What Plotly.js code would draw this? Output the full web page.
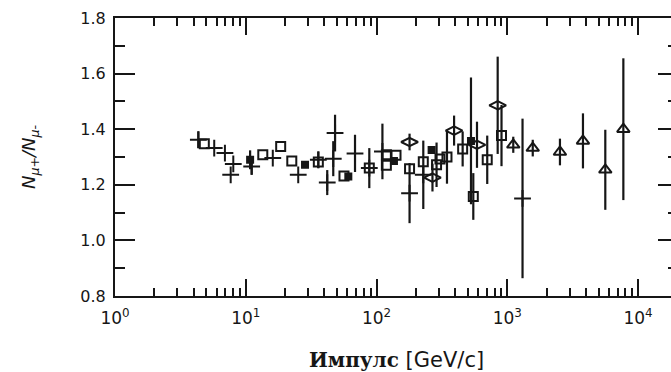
<!DOCTYPE html>
<html>
<head>
<meta charset="utf-8">
<script src="https://cdn.plot.ly/plotly-3.0.1.min.js"></script>
<style>
  html, body { margin: 0; padding: 0; overflow: hidden; background: #fff; }
  #chart { width: 690px; height: 372px; }
</style>
</head>
<body>
<div id="chart"></div>
<script>
// Muon charge ratio N(mu+)/N(mu-) versus momentum, several data sets.

// crosses
const crossP   = [4.34, 5.74, 6.93, 8.03, 7.67, 11.1, 16.1, 25.2, 35.9, 42.0, 48.2, 46.7, 68.5, 88.1, 111, 179, 228, 1309];
const crossR   = [1.362, 1.332, 1.314, 1.275, 1.236, 1.266, 1.296, 1.236, 1.290, 1.208, 1.386, 1.294, 1.313, 1.260, 1.320, 1.170, 1.236, 1.151];
const crossErr = [0.030, 0, 0, 0, 0, 0.030, 0, 0, 0.030, 0.045, 0.066, 0.063, 0.067, 0.072, 0.100, 0.108, 0.123, 0.287];

// open squares
const sqP   = [4.82, 13.5, 18.5, 22.5, 35.9, 56.4, 88.1, 119, 119, 141, 179, 228, 288, 306, 346, 456, 550, 703, 904];
const sqR   = [1.348, 1.308, 1.338, 1.286, 1.282, 1.232, 1.260, 1.270, 1.308, 1.306, 1.258, 1.283, 1.272, 1.293, 1.300, 1.329, 1.158, 1.290, 1.377];
const sqErr = [0, 0, 0, 0, 0, 0, 0, 0, 0, 0, 0, 0, 0.080, 0, 0.096, 0.063, 0.084, 0.087, 0.110];

// filled squares
const fillP   = [10.8, 28.4, 60.9, 136, 264, 528];
const fillR   = [1.290, 1.272, 1.230, 1.286, 1.325, 1.358];
const fillErr = [0.034, 0, 0, 0, 0, 0.228];

// open diamonds
const diaP   = [179, 268, 392, 587, 845];
const diaR   = [1.354, 1.226, 1.395, 1.344, 1.486];
const diaErr = [0.030, 0.050, 0.054, 0.083, 0.175];

// open triangles
const triP   = [1112, 1567, 2530, 3794, 5623, 7727];
const triR   = [1.344, 1.332, 1.318, 1.358, 1.254, 1.400];
const triErr = [0.029, 0.030, 0.048, 0.099, 0.144, 0.255];

// axis labels
const decadeVals = [1, 10, 100, 1000, 10000];
const decadeText = ['10<sup>0</sup>', '10<sup>1</sup>', '10<sup>2</sup>', '10<sup>3</sup>', '10<sup>4</sup>'];
const xTitle = '<span style="font-family:DejaVu Serif;font-weight:bold;font-size:20px">Импулс</span> [GeV/c]';
const yTitle = '<i>N</i><sub><i>μ+</i></sub><i>/</i><i>N</i><sub><i>μ-</i></sub>';

const INK = '#161616';
const X_RANGE = [0, 4.306];
const Y_RANGE = [0.8, 1.8];

// minor ticks at 2..9 within each decade
const minorVals = [];
for (let d = 1; d <= 10000; d *= 10) {
  for (let k = 2; k <= 9; k++) minorVals.push(k * d);
}

function series(x, y, err, symbol, size) {
  return {
    type: 'scatter', mode: 'markers', x: x, y: y,
    error_y: { type: 'data', array: err, visible: true, color: INK, thickness: 2.2, width: 0 },
    marker: { symbol: symbol, size: size, color: INK, line: { color: INK, width: 2 } },
    hoverinfo: 'x+y'
  };
}

const data = [
  series(crossP, crossR, crossErr, 'cross-thin-open', 12),
  series(sqP, sqR, sqErr, 'square-open', 9),
  series(fillP, fillR, fillErr, 'square', 6),
  series(diaP, diaR, diaErr, 'diamond-wide-open', 12),
  series(triP, triR, triErr, 'triangle-up-open', 11),
  // empty trace that carries the mirrored top/right tick frame
  { type: 'scatter', mode: 'markers', x: [], y: [], xaxis: 'x2', yaxis: 'y2', hoverinfo: 'skip' }
];

const xTicks = {
  ticks: 'inside', ticklen: 17, tickwidth: 2, tickcolor: INK,
  tickmode: 'array', tickvals: decadeVals,
  minor: { tickmode: 'array', tickvals: minorVals, ticks: 'inside', ticklen: 8, tickwidth: 2, tickcolor: INK, showgrid: false }
};
const yTicks = {
  tick0: 0.8, dtick: 0.2,
  ticks: 'inside', ticklen: 20, tickwidth: 2, tickcolor: INK,
  minor: { dtick: 0.1, ticks: 'inside', ticklen: 10, tickwidth: 2, tickcolor: INK, showgrid: false }
};

const layout = {
  width: 690, height: 372,
  margin: { l: 115, r: 12, t: 18, b: 76 },
  paper_bgcolor: '#fff', plot_bgcolor: '#fff',
  showlegend: false,
  font: { family: 'DejaVu Sans, sans-serif', color: INK },
  xaxis: Object.assign({
    type: 'log', range: X_RANGE,
    showgrid: false, zeroline: false,
    showline: true, linecolor: INK, linewidth: 2, mirror: true,
    ticktext: decadeText,
    tickfont: { family: 'DejaVu Sans, sans-serif', size: 17, color: INK },
    ticklabelstandoff: 6,
    title: { text: xTitle, font: { family: 'DejaVu Sans, sans-serif', size: 21, color: INK }, standoff: 30 }
  }, xTicks),
  yaxis: Object.assign({
    range: Y_RANGE, tickformat: '.1f',
    showgrid: false, zeroline: false,
    showline: true, linecolor: INK, linewidth: 2, mirror: true,
    tickfont: { family: 'DejaVu Sans, sans-serif', size: 16, color: INK },
    ticklabelstandoff: 4,
    title: { text: yTitle, font: { family: 'DejaVu Sans, sans-serif', size: 18, color: INK }, standoff: 40 }
  }, yTicks),
  xaxis2: Object.assign({
    type: 'log', range: X_RANGE, overlaying: 'x', side: 'top', anchor: 'y2',
    showgrid: false, zeroline: false, showline: false, showticklabels: false
  }, xTicks),
  yaxis2: Object.assign({
    range: Y_RANGE, overlaying: 'y', side: 'right', anchor: 'x2',
    showgrid: false, zeroline: false, showline: false, showticklabels: false
  }, yTicks)
};

Plotly.newPlot('chart', data, layout, { staticPlot: true, displayModeBar: false });
</script>
</body>
</html>
